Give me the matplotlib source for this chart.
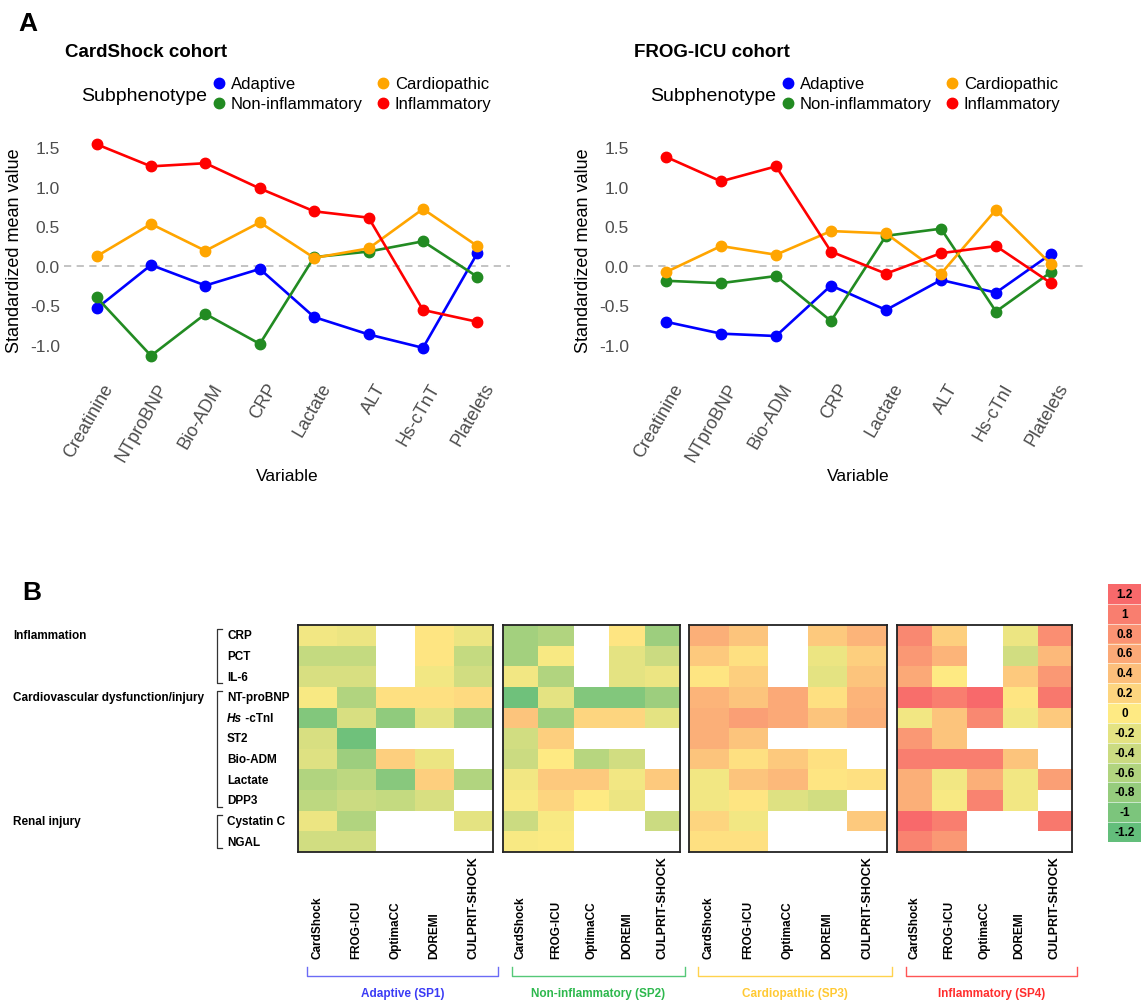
import numpy as np
import matplotlib.pyplot as plt
from matplotlib.colors import LinearSegmentedColormap
from matplotlib.lines import Line2D
from matplotlib.transforms import ScaledTranslation

plt.rcParams['font.family'] = ['Liberation Sans', 'DejaVu Sans']

# ---- panel A data ----
variables_cs = ['Creatinine', 'NTproBNP', 'Bio-ADM', 'CRP', 'Lactate', 'ALT', 'Hs-cTnT', 'Platelets']
variables_frog = ['Creatinine', 'NTproBNP', 'Bio-ADM', 'CRP', 'Lactate', 'ALT', 'Hs-cTnI', 'Platelets']
subphenotypes = ['Adaptive', 'Non-inflammatory', 'Cardiopathic', 'Inflammatory']
sub_colors = ['#0000FF', '#228B22', '#FFA500', '#FF0000']

cs_adaptive = [-0.54, 0.01, -0.25, -0.04, -0.65, -0.87, -1.04, 0.16]
cs_noninfl = [-0.40, -1.14, -0.61, -0.99, 0.11, 0.18, 0.31, -0.14]
cs_cardio = [0.12, 0.53, 0.19, 0.55, 0.10, 0.22, 0.72, 0.25]
cs_infl = [1.54, 1.26, 1.30, 0.98, 0.69, 0.61, -0.56, -0.71]

frog_adaptive = [-0.71, -0.86, -0.89, -0.25, -0.56, -0.18, -0.34, 0.15]
frog_noninfl = [-0.19, -0.22, -0.13, -0.70, 0.38, 0.47, -0.58, -0.08]
frog_cardio = [-0.08, 0.25, 0.14, 0.44, 0.41, -0.10, 0.71, 0.02]
frog_infl = [1.38, 1.07, 1.26, 0.18, -0.10, 0.16, 0.25, -0.22]

yticks = [-1.0, -0.5, 0.0, 0.5, 1.0, 1.5]

# ---- panel B data ----
nan = np.nan
biomarkers = ['CRP', 'PCT', 'IL-6', 'NT-proBNP', 'Hs-cTnI', 'ST2', 'Bio-ADM',
              'Lactate', 'DPP3', 'Cystatin C', 'NGAL']
groups = ['Inflammation', 'Cardiovascular dysfunction/injury', 'Renal injury']
group_rows = [(0, 2), (3, 8), (9, 10)]
cohorts = ['CardShock', 'FROG-ICU', 'OptimaCC', 'DOREMI', 'CULPRIT-SHOCK']
sp_names = ['Adaptive (SP1)', 'Non-inflammatory (SP2)', 'Cardiopathic (SP3)', 'Inflammatory (SP4)']
sp_colors = ['#3B3BF5', '#2DB84D', '#FFC933', '#FF2E2E']
bracket_colors = ['#6B6BF5', '#55C878', '#FFD24D', '#FF5555']

hm_adaptive = [
    [-0.10, -0.15, nan, 0.05, -0.15],
    [-0.45, -0.45, nan, 0.05, -0.45],
    [-0.30, -0.30, nan, -0.10, -0.35],
    [-0.05, -0.60, 0.10, 0.10, 0.15],
    [-0.95, -0.30, -0.85, -0.20, -0.65],
    [-0.30, -1.10, nan, nan, nan],
    [-0.25, -0.75, 0.25, -0.15, nan],
    [-0.60, -0.50, -0.90, 0.25, -0.60],
    [-0.50, -0.40, -0.45, -0.30, nan],
    [-0.15, -0.60, nan, nan, -0.20],
    [-0.35, -0.35, nan, nan, nan],
]
hm_noninfl = [
    [-0.70, -0.60, nan, 0.05, -0.75],
    [-0.70, -0.05, nan, -0.20, -0.40],
    [-0.10, -0.60, nan, -0.20, -0.15],
    [-1.10, -0.20, -0.95, -0.95, -0.75],
    [0.35, -0.70, 0.20, 0.20, -0.20],
    [-0.35, 0.25, nan, nan, nan],
    [-0.40, 0.00, -0.55, -0.35, nan],
    [-0.10, 0.30, 0.30, -0.10, 0.30],
    [-0.05, 0.20, 0.00, -0.15, nan],
    [-0.40, -0.05, nan, nan, -0.40],
    [-0.05, -0.02, nan, nan, nan],
]
hm_cardio = [
    [0.55, 0.35, nan, 0.30, 0.50],
    [0.30, 0.10, nan, -0.15, 0.25],
    [0.05, 0.25, nan, -0.20, 0.35],
    [0.50, 0.35, 0.60, 0.10, 0.50],
    [0.55, 0.70, 0.60, 0.35, 0.55],
    [0.55, 0.35, nan, nan, nan],
    [0.35, 0.10, 0.30, 0.10, nan],
    [-0.10, 0.35, 0.45, 0.05, 0.10],
    [-0.10, 0.05, -0.25, -0.35, nan],
    [0.20, -0.10, nan, nan, 0.30],
    [0.10, 0.10, nan, nan, nan],
]
hm_infl = [
    [0.90, 0.25, nan, -0.15, 0.85],
    [0.75, 0.50, nan, -0.35, 0.45],
    [0.60, 0.00, nan, 0.30, 0.75],
    [1.15, 1.00, 1.20, 0.05, 1.05],
    [-0.10, 0.35, 0.90, -0.10, 0.30],
    [0.75, 0.35, nan, nan, nan],
    [1.00, 1.00, 1.00, 0.35, nan],
    [0.55, -0.10, 0.55, -0.10, 0.70],
    [0.55, -0.05, 0.95, -0.10, nan],
    [1.25, 1.00, nan, nan, 1.05],
    [0.95, 0.75, nan, nan, nan],
]

cb_values = [1.2, 1.0, 0.8, 0.6, 0.4, 0.2, 0.0, -0.2, -0.4, -0.6, -0.8, -1.0, -1.2]
cb_labels = ['1.2', '1', '0.8', '0.6', '0.4', '0.2', '0', '-0.2', '-0.4', '-0.6', '-0.8', '-1', '-1.2']

W, H = 1141, 1003
fig = plt.figure(figsize=(W / 100, H / 100), dpi=100)


def px_axes(x0, y0, x1, y1):
    return fig.add_axes([x0 / W, 1 - y1 / H, (x1 - x0) / W, (y1 - y0) / H])


over = fig.add_axes([0, 0, 1, 1])
over.set_xlim(0, W)
over.set_ylim(H, 0)
over.axis('off')

over.text(18, 24, 'A', fontsize=19, fontweight='bold', va='center', ha='left')
over.text(22, 593, 'B', fontsize=19, fontweight='bold', va='center', ha='left')

# ---- panel A ----
panels = [
    (64, 510, 0, 'CardShock cohort', variables_cs, [cs_adaptive, cs_noninfl, cs_cardio, cs_infl]),
    (633, 1084, 569, 'FROG-ICU cohort', variables_frog, [frog_adaptive, frog_noninfl, frog_cardio, frog_infl]),
]
shift = ScaledTranslation(4 / 72, 0, fig.dpi_scale_trans)
for x0, x1, dx, title, variables, series in panels:
    ax = px_axes(x0, 135, x1, 367)
    x = np.arange(len(variables))
    ax.axhline(0, color='#BEBEBE', lw=1.3, ls=(0, (4, 3)), zorder=0)
    handles = []
    for vals, name, col in zip(series, subphenotypes, sub_colors):
        ax.plot(x, vals, color=col, lw=1.9, marker='o', ms=7.5)
        handles.append(Line2D([], [], ls='none', marker='o', color=col, ms=7.5))
    ax.set_xlim(-0.6, len(variables) - 0.4)
    ax.set_ylim(-1.27, 1.67)
    ax.set_yticks(yticks)
    ax.set_yticklabels([f'{t:.1f}' for t in yticks])
    ax.set_xticks(x)
    ax.set_xticklabels(variables, rotation=60, ha='right', va='top', rotation_mode='anchor')
    ax.tick_params(axis='both', length=0, labelsize=12.5, labelcolor='#4D4D4D')
    ax.tick_params(axis='x', pad=10, labelsize=13)
    ax.tick_params(axis='y', pad=3)
    for lbl in ax.get_xticklabels():
        lbl.set_transform(lbl.get_transform() + shift)
    for s in ax.spines.values():
        s.set_visible(False)
    ax.set_facecolor('none')
    ax.set_ylabel('Standardized mean value', fontsize=13, va='center')
    ax.yaxis.set_label_coords((15 + dx - x0) / (x1 - x0), 0.5)
    ax.set_xlabel('Variable', fontsize=12.5, va='center')
    ax.xaxis.set_label_coords(0.5, (367 - 477) / 232)

    over.text(65 + dx, 52, title, fontsize=13.5, fontweight='bold', va='center', ha='left')
    over.text(81 + dx, 96, 'Subphenotype', fontsize=14, va='center', ha='left')
    ax.legend(handles, subphenotypes, ncol=2, loc='center left',
              bbox_to_anchor=((212 + dx) / W, 1 - 95 / H), bbox_transform=fig.transFigure,
              frameon=False, fontsize=12, handlelength=0.8, handletextpad=0.32,
              columnspacing=0.82, labelspacing=0.3, borderpad=0, borderaxespad=0)

# ---- panel B ----
cmap = LinearSegmentedColormap.from_list('excel3', ['#63BE7B', '#FFEB84', '#F8696B'])
cmap.set_bad('white')

blocks = [(298, 493), (503, 680), (689, 887), (897, 1072)]
hm_top, hm_bot = 626, 853
hm_data = [hm_adaptive, hm_noninfl, hm_cardio, hm_infl]

for (x0, x1), data, sp, spc, brc in zip(blocks, hm_data, sp_names, sp_colors, bracket_colors):
    ax = px_axes(x0, hm_top, x1, hm_bot)
    ax.imshow(np.array(data, dtype=float), cmap=cmap, vmin=-1.2, vmax=1.2,
              aspect='auto', interpolation='nearest')
    ax.set_xticks([])
    ax.set_yticks([])
    for s in ax.spines.values():
        s.set_linewidth(1.3)
        s.set_color('#222222')
    for j, c in enumerate(cohorts):
        ax.text(j, (hm_bot - 959) / (hm_bot - hm_top), c, transform=ax.get_xaxis_transform(),
                rotation=90, ha='center', va='bottom', fontsize=9 if j == 4 else 8.5,
                fontweight='bold')
    # group bracket below the block
    bx0, bx1 = x0 + 9, x1 + 5
    over.plot([bx0, bx0, bx1, bx1], [968, 977, 977, 968], color=brc, lw=1.0)
    over.text((bx0 + bx1) / 2, 994, sp, color=spc, fontsize=8.5, fontweight='bold',
              ha='center', va='center')

# row labels, group labels and brackets on the left
lab = px_axes(0, hm_top, 298, hm_bot)
lab.set_xlim(0, 298)
lab.set_ylim(len(biomarkers), 0)
lab.axis('off')
for i, b in enumerate(biomarkers):
    if b.startswith('Hs-'):
        t = lab.text(227, i + 0.5, 'Hs', fontsize=8.5, fontweight='bold', style='italic',
                     ha='left', va='center')
        lab.annotate(' -' + b[3:], xy=(1, 0.5), xycoords=t, fontsize=8.5, fontweight='bold',
                     ha='left', va='center')
    else:
        lab.text(227, i + 0.5, b, fontsize=8.5, fontweight='bold', ha='left', va='center')
for g, (r0, r1) in zip(groups, group_rows):
    lab.text(13, r0 + 0.5, g, fontsize=8.5, fontweight='bold', ha='left', va='center')
    top, bot = r0 + 0.2, r1 + 0.8
    lab.plot([222, 217, 217, 222], [top, top, bot, bot], color='#333333', lw=0.9)

# colour key
cb = px_axes(1108, 585, 1141, 843)
cb.imshow(np.array(cb_values)[:, None], cmap=cmap, vmin=-1.2, vmax=1.2,
          aspect='auto', interpolation='nearest')
for i, l in enumerate(cb_labels):
    cb.text(0, i, l, ha='center', va='center', fontsize=8.5, fontweight='bold')
    if i:
        cb.axhline(i - 0.5, color='white', lw=0.6, alpha=0.7)
cb.set_xticks([])
cb.set_yticks([])
for s in cb.spines.values():
    s.set_visible(False)

fig.savefig('out.png', dpi=100)
